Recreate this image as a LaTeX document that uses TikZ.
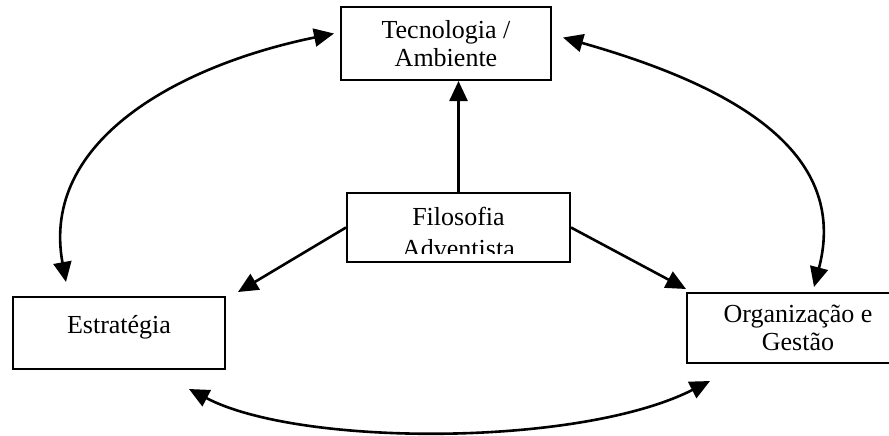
\documentclass[tikz,border=0pt]{standalone}
\usepackage{fontspec}
\setmainfont{Liberation Serif}
\usetikzlibrary{arrows.meta,calc}

\begin{document}
\begin{tikzpicture}[x=0.5pt,y=-0.5pt,
  box/.style={draw,line width=1pt,inner sep=0pt,align=center,font=\fontsize{13}{14}\selectfont},
  arr/.style={line width=1.3pt,-{Triangle[length=10pt,width=9pt]}},
  darr/.style={line width=1.3pt,{Triangle[length=10pt,width=9pt]}-{Triangle[length=10pt,width=9pt]}}]
\useasboundingbox (0,0) rectangle (889,435);
\node[box,minimum width=105pt,minimum height=36.5pt] (tec) at (446,43.5) {Tecnologia /\\Ambiente};
\node[box,minimum width=111.5pt,minimum height=34.5pt] (fil) at (458.5,227.5) {};
\begin{scope}
\clip (fil.north west) rectangle ($(fil.south east)+(0,-10)$);
\node[inner sep=0pt,align=center,font=\fontsize{13}{16}\selectfont] (filtxt) at (458.5,232.5) {Filosofia\\Adventista};
\end{scope}
\node[box,minimum width=106pt,minimum height=36pt,text height=9pt,text depth=9pt] (est) at (119,333) {Estrat\'egia};
\node[box,minimum width=111pt,minimum height=35pt] (org) at (798,328) {Organiza\c{c}\~ao e\\Gest\~ao};
% end points of the arrows
\coordinate (tecL) at ($(tec.west)+(-6,-10)$);
\coordinate (tecR) at ($(tec.east)+(11,-6)$);
\coordinate (estT) at ($(est.north west)+(54,-14)$);
\coordinate (estB) at ($(est.south east)+(-37,19)$);
\coordinate (orgT) at ($(org.north west)+(128,-5)$);
\coordinate (orgB) at ($(org.south west)+(24,17)$);
\draw[arr] (fil.north) -- (fil.north |- tec.south);
\draw[arr] (fil.west) -- ($(est.north east)+(12,-4)$);
\draw[arr] (fil.east) -- ($(org.north west)+(0,-3)$);
\draw[darr] (estT) .. controls (40,140) and (180,65) .. (tecL);
\draw[darr] (tecR) .. controls (730,85) and (850,150) .. (orgT);
\draw[darr] (estB) .. controls (300,447) and (580,447) .. (orgB);
\end{tikzpicture}
\end{document}
